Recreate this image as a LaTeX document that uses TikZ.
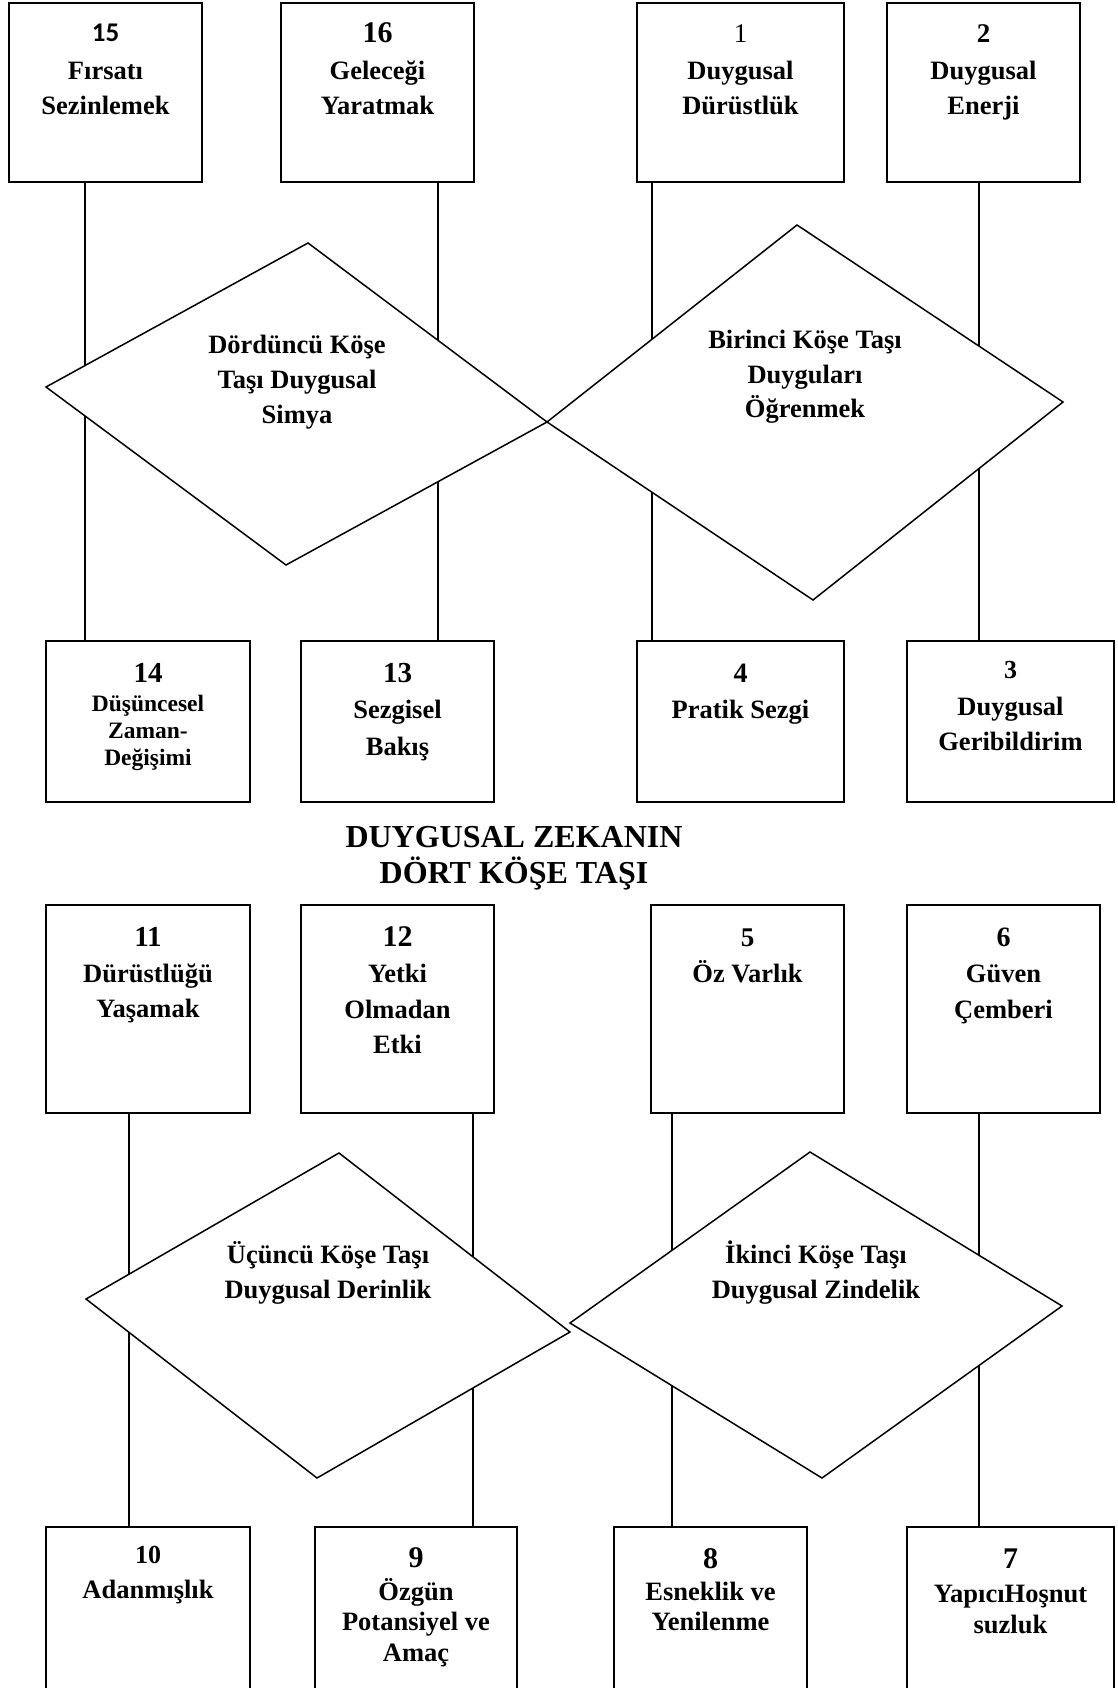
\documentclass[tikz,border=0pt]{standalone}
\usepackage{fontspec}
\setmainfont{Liberation Serif}
\newfontfamily\calfont{Carlito}
\tikzset{
  boxnode/.style={draw, line width=1.8pt, inner sep=0pt, outer sep=0pt, anchor=north west},
  conn/.style={line width=1.3pt},
  diam/.style={draw, fill=white, line width=1.5pt, line join=miter},
  txt/.style={anchor=base, inner sep=0pt, font=\bfseries\fontsize{26.5}{30}\selectfont},
  txtsmall/.style={anchor=base, inner sep=0pt, font=\bfseries\fontsize{23.5}{26}\selectfont},
  numlbl/.style={anchor=base, inner sep=0pt, font=\bfseries\fontsize{#1}{#1}\selectfont},
  titletxt/.style={anchor=base, inner sep=0pt, font=\bfseries\fontsize{32}{36}\selectfont}
}
\newcommand\mkbox[5]{\node[boxnode, minimum width={(#4-#2)*1pt}, minimum height={(#5-#3)*1pt}] (#1) at (#2,#3) {};}
\begin{document}
\begin{tikzpicture}[x=1pt,y=-1pt]
\useasboundingbox (0,0) rectangle (1118,1688);
\fill[white] (0,0) rectangle (1118,1688);
\clip (0,0) rectangle (1118,1688);

% boxes
\mkbox{b15}{9}{3}{202}{182}
\mkbox{b16}{281}{3}{474}{182}
\mkbox{b1}{637}{3}{844}{182}
\mkbox{b2}{887}{3}{1080}{182}
\mkbox{b14}{46}{641}{250}{802}
\mkbox{b13}{301}{641}{494}{802}
\mkbox{b4}{637}{641}{844}{802}
\mkbox{b3}{907}{641}{1114}{802}
\mkbox{b11}{46}{905}{250}{1113}
\mkbox{b12}{301}{905}{494}{1113}
\mkbox{b5}{651}{905}{844}{1113}
\mkbox{b6}{907}{905}{1100}{1113}
\mkbox{b10}{46}{1527}{250}{1720}
\mkbox{b9}{315}{1527}{517}{1720}
\mkbox{b8}{614}{1527}{807}{1720}
\mkbox{b7}{907}{1527}{1114}{1720}

% connectors
\draw[conn] (85,0 |- b15.south) -- (85,0 |- b14.north);
\draw[conn] (438,0 |- b16.south) -- (438,0 |- b13.north);
\draw[conn] (652,0 |- b1.south) -- (652,0 |- b4.north);
\draw[conn] (979,0 |- b2.south) -- (979,0 |- b3.north);
\draw[conn] (129,0 |- b11.south) -- (129,0 |- b10.north);
\draw[conn] (473,0 |- b12.south) -- (473,0 |- b9.north);
\draw[conn] (672,0 |- b5.south) -- (672,0 |- b8.north);
\draw[conn] (979,0 |- b6.south) -- (979,0 |- b7.north);

% diamonds
\draw[diam] (46,387) -- (308,243) -- (547,422) -- (286,565) -- cycle;
\draw[diam] (547,422) -- (797,225) -- (1063,402) -- (813,600) -- cycle;
\draw[diam] (86,1299) -- (339,1153) -- (570,1332) -- (317,1478) -- cycle;
\draw[diam] (570,1323) -- (810,1152) -- (1062,1306) -- (822,1478) -- cycle;

% diamond texts
\node[txt] (d4a) at (297,353) {Dördüncü Köşe};
\node[txt] (d4b) at (297,388) {Taşı Duygusal};
\node[txt] (d4c) at (297,423) {Simya};
\node[txt] (d1a) at (805,348) {Birinci Köşe Taşı};
\node[txt] (d1b) at (805,383) {Duyguları};
\node[txt] (d1c) at (805,417) {Öğrenmek};
\node[txt] (d3a) at (328,1263) {Üçüncü Köşe Taşı};
\node[txt] (d3b) at (328,1298) {Duygusal Derinlik};
\node[txt] (d2a) at (816,1263) {İkinci Köşe Taşı};
\node[txt] (d2b) at (816,1298) {Duygusal Zindelik};

% top row texts
\node[anchor=base, inner sep=0pt, font=\calfont\bfseries\fontsize{27}{27}\selectfont] (n15) at (105.5,42) {15};
\node[txt] (t15a) at (105.5,80) {Fırsatı};
\node[txt] (t15b) at (105.5,115) {Sezinlemek};
\node[numlbl=30] (n16) at (377.5,43) {16};
\node[txt] (t16a) at (377.5,80) {Geleceği};
\node[txt] (t16b) at (377.5,115) {Yaratmak};
\node[anchor=base, inner sep=0pt, font=\fontsize{27}{27}\selectfont] (n1) at (740.5,43) {1};
\node[txt] (t1a) at (740.5,80) {Duygusal};
\node[txt] (t1b) at (740.5,115) {Dürüstlük};
\node[numlbl=27] (n2) at (983.5,43) {2};
\node[txt] (t2a) at (983.5,80) {Duygusal};
\node[txt] (t2b) at (983.5,115) {Enerji};

% second row texts
\node[numlbl=29] (n14) at (148,682) {14};
\node[txtsmall] (t14a) at (148,711) {Düşüncesel};
\node[txtsmall] (t14b) at (148,738) {Zaman-};
\node[txtsmall] (t14c) at (148,765) {Değişimi};
\node[numlbl=29] (n13) at (397.5,682) {13};
\node[txt] (t13a) at (397.5,718) {Sezgisel};
\node[txt] (t13b) at (397.5,755) {Bakış};
\node[numlbl=28] (n4) at (740.5,682) {4};
\node[txt] (t4a) at (740.5,718) {Pratik Sezgi};
\node[numlbl=26] (n3) at (1010.5,678) {3};
\node[txt] (t3a) at (1010.5,715) {Duygusal};
\node[txt] (t3b) at (1010.5,750) {Geribildirim};

% title
\node[titletxt] (ttl1) at (514,847) {DUYGUSAL ZEKANIN};
\node[titletxt] (ttl2) at (514,883) {DÖRT KÖŞE TAŞI};

% third row texts
\node[numlbl=29] (n11) at (148,946) {11};
\node[txt] (t11a) at (148,982) {Dürüstlüğü};
\node[txt] (t11b) at (148,1017) {Yaşamak};
\node[numlbl=30] (n12) at (397.5,946) {12};
\node[txt] (t12a) at (397.5,982) {Yetki};
\node[txt] (t12b) at (397.5,1018) {Olmadan};
\node[txt] (t12c) at (397.5,1053) {Etki};
\node[numlbl=27] (n5) at (747.5,946) {5};
\node[txt] (t5a) at (747.5,982) {Öz Varlık};
\node[numlbl=28] (n6) at (1003.5,946) {6};
\node[txt] (t6a) at (1003.5,982) {Güven};
\node[txt] (t6b) at (1003.5,1018) {Çemberi};

% bottom row texts
\node[numlbl=26] (n10) at (148,1563) {10};
\node[txt] (t10a) at (148,1598) {Adanmışlık};
\node[numlbl=30] (n9) at (416,1567) {9};
\node[txt] (t9a) at (416,1600) {Özgün};
\node[txt] (t9b) at (416,1630) {Potansiyel ve};
\node[txt] (t9c) at (416,1661) {Amaç};
\node[numlbl=30] (n8) at (710.5,1568) {8};
\node[txt] (t8a) at (710.5,1600) {Esneklik ve};
\node[txt] (t8b) at (710.5,1630) {Yenilenme};
\node[numlbl=30] (n7) at (1010.5,1568) {7};
\node[txt] (t7a) at (1010.5,1602) {YapıcıHoşnut};
\node[txt] (t7b) at (1010.5,1633) {suzluk};
\end{tikzpicture}
\end{document}
